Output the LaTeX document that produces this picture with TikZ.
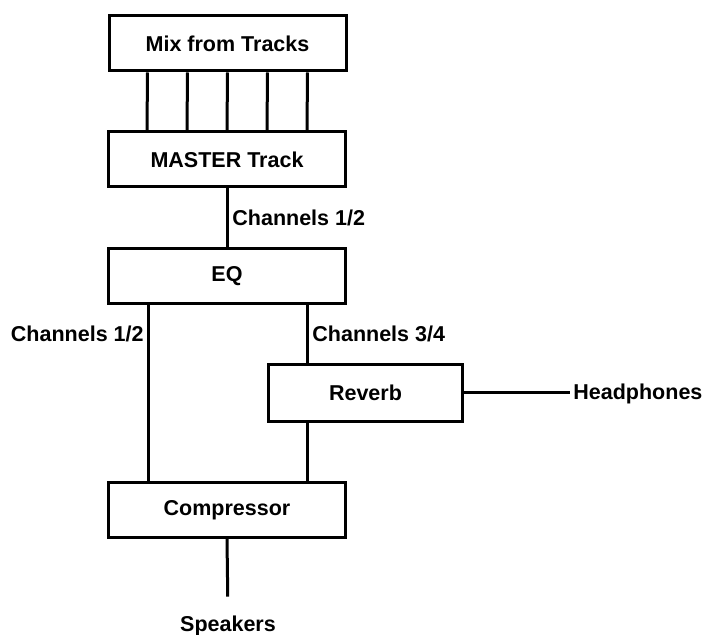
\documentclass[tikz,border=0pt]{standalone}
\usepackage{fontspec}
\setmainfont{Liberation Sans}
\usepackage{tikz}
\usetikzlibrary{positioning}

\begin{document}
\begin{tikzpicture}[
    x=0.5pt,y=-0.5pt,
    block/.style={draw,line width=1.5pt,fill=white,minimum width=118.5pt,minimum height=27.5pt,font=\bfseries\fontsize{10.75}{12}\selectfont},
    chan/.style={inner sep=0pt,font=\bfseries\fontsize{10.75}{12}\selectfont},
    wire/.style={line width=1.5pt}
  ]
    \useasboundingbox (0,0) rectangle (707,635);

    \node[block] (mix) at (227.5,43.5) {Mix from Tracks};
    \node[block] (master) at (227,159.5) {MASTER Track};
    \node[block] (eq) at (227,276) {EQ};
    \node[block,minimum width=97pt,minimum height=28.5pt] (reverb) at (365.5,393) {Reverb};
    \node[block] (comp) at (227,510) {Compressor};

    \node[chan,anchor=base west] (ch12) at (232,226) {Channels 1/2};
    \node[chan,anchor=base east] (ch12l) at (144,342) {Channels 1/2};
    \node[chan,anchor=base west] (ch34) at (312,342) {Channels 3/4};
    \node[chan,anchor=base west,inner xsep=1.5pt] (hp) at (570,400) {Headphones};
    \node[chan,anchor=base] (spk) at (228,632) {Speakers};

    \foreach \dx in {-40,-20,0,20,40}
      \draw[wire] ([xshift=\dx pt]mix.south) -- ([xshift=\dx pt]master.north);
    \draw[wire] (master.south) -- (eq.north);
    \draw[wire] ([xshift=-39.5pt]eq.south) -- ([xshift=-39.5pt]comp.north);
    \draw[wire] ([xshift=40pt]eq.south) coordinate (rv) -- (rv |- reverb.north);
    \draw[wire] (rv |- reverb.south) -- (rv |- comp.north);
    \draw[wire] (reverb.east) -- (reverb.east -| hp.west);
    \draw[wire,shorten >=9.75pt] (comp.south) -- (spk.north);
  \end{tikzpicture}
\end{document}
